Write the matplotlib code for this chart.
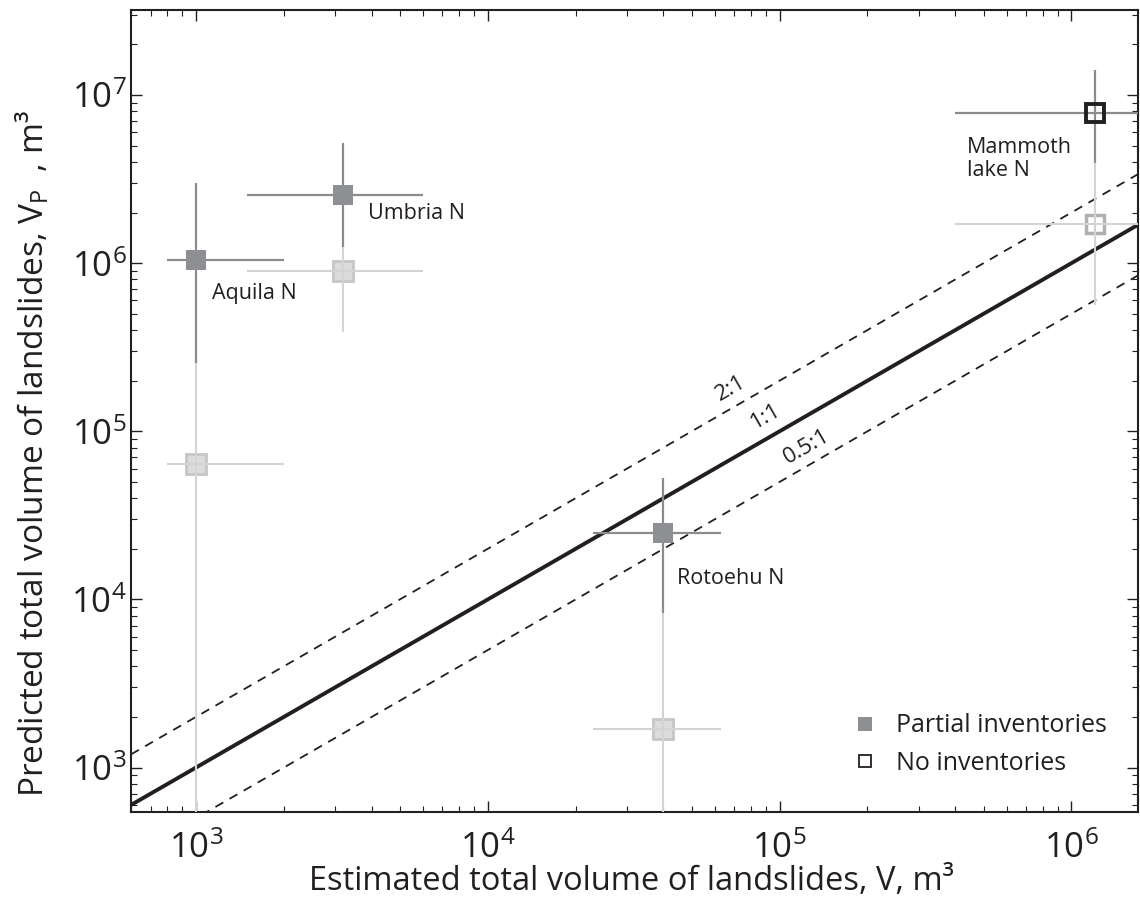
## predicted vs estimated landslide volume
import numpy as np
import matplotlib
matplotlib.use("Agg")
import matplotlib.pyplot as plt
from matplotlib.ticker import LogLocator, FuncFormatter, NullFormatter
from matplotlib.lines import Line2D

plt.rcParams['font.family'] = ['Open Sans', 'DejaVu Sans']
plt.rcParams['mathtext.fontset'] = 'custom'
plt.rcParams['mathtext.rm'] = 'Open Sans'
plt.rcParams['mathtext.it'] = 'Open Sans:italic'
plt.rcParams['mathtext.bf'] = 'Open Sans:bold'

ink = '#231f20'

# events
names = ['Aquila N', 'Umbria N', 'Rotoehu N', 'Mammoth\nlake N']
inventory = ['partial', 'partial', 'partial', 'none']
# estimated volume V and its range
est_v = [1000, 3200, 4.0e4, 1.2e6]
est_lo = [800, 1500, 2.3e4, 4.0e5]
est_hi = [2000, 6000, 6.3e4, 3.0e6]
# predicted volume Vp (main model) and range
pred_v = [1.05e6, 2.55e6, 2.5e4, 7.8e6]
pred_lo = [2.55e5, 1.25e6, 8.3e3, 3.95e6]
pred_hi = [3.0e6, 5.15e6, 5.3e4, 1.41e7]
# predicted volume, second estimate (light)
alt_v = [6.4e4, 9.0e5, 1.7e3, 1.7e6]
alt_lo = [100, 3.9e5, 300, 5.6e5]
alt_hi = [2.55e5, 1.25e6, 8.3e3, 3.95e6]

# reference ratio lines
ratios = [2.0, 1.0, 0.5]
ratio_labels = ['2:1', '1:1', '0.5:1']
ratio_label_x = [6.78e4, 9.0e4, 1.24e5]
ratio_label_y = [1.81e5, 1.23e5, 8.05e4]

# label anchors (left edge of text)
name_x = [1.14e3, 3.9e3, 4.47e4, 4.38e5]
name_y = [6.6e5, 1.98e6, 1.33e4, 4.15e6]

xlim = (600, 1.69e6)
ylim = (545, 3.2e7)

fig = plt.figure(figsize=(11.4, 8.99), dpi=100)
ax = fig.add_axes([131/1140, 1-812/899, (1138-131)/1140, (812-10)/899])
ax.set_xscale('log')
ax.set_yscale('log')
ax.set_xlim(xlim)
ax.set_ylim(ylim)

# ratio lines
xx = np.logspace(np.log10(xlim[0]), np.log10(xlim[1]), 50)
for r in ratios:
    if r == 1.0:
        ax.plot(xx, r*xx, color=ink, lw=2.8, zorder=2)
    else:
        ax.plot(xx, r*xx, color=ink, lw=1.3, ls=(0, (5, 4)), zorder=2)
for lab, lx, ly in zip(ratio_labels, ratio_label_x, ratio_label_y):
    ax.text(lx, ly, lab, rotation=29.8, rotation_mode='anchor', ha='center', va='center',
            fontsize=16, color=ink)

est_v = np.array(est_v)
xerr = [est_v - np.array(est_lo), np.array(est_hi) - est_v]

# light estimate: markers, then error lines over them
alt_v = np.array(alt_v)
for i in range(len(names)):
    if inventory[i] == 'partial':
        ax.plot(est_v[i], alt_v[i], 's', ms=14, mfc='#dcdcdc', mec='#c6c6c6', mew=2, zorder=3)
    else:
        ax.plot(est_v[i], alt_v[i], 's', ms=13, mfc='white', mec='#b0b0b0', mew=2.5, zorder=3)
ax.errorbar(est_v, alt_v, xerr=xerr, yerr=[alt_v - np.array(alt_lo), np.array(alt_hi) - alt_v],
            fmt='none', ecolor='#d4d4d4', elinewidth=1.5, capsize=0, zorder=4)

# main estimate
pred_v = np.array(pred_v)
ax.errorbar(est_v, pred_v, xerr=xerr, yerr=[pred_v - np.array(pred_lo), np.array(pred_hi) - pred_v],
            fmt='none', ecolor='#8c8c8c', elinewidth=1.6, capsize=0, zorder=5)
for i in range(len(names)):
    if inventory[i] == 'partial':
        ax.plot(est_v[i], pred_v[i], 's', ms=14.5, mfc='#8e8f93', mec='#8e8f93', mew=0, zorder=6)
    else:
        ax.plot(est_v[i], pred_v[i], 's', ms=13, mfc='none', mec=ink, mew=2.8, zorder=6)

for nm, nx, ny in zip(names, name_x, name_y):
    ax.text(nx, ny, nm, ha='left', va='center', fontsize=15.5, color=ink, linespacing=1.15)

# legend
handles = [Line2D([], [], ls='none', marker='s', ms=10, mfc='#8e8f93', mec='#8e8f93', mew=0),
           Line2D([], [], ls='none', marker='s', ms=9, mfc='white', mec=ink, mew=1.3)]
ax.legend(handles, ['Partial inventories', 'No inventories'], loc='upper left',
          bbox_to_anchor=((830-131)/1007, (812-691)/802), frameon=False, fontsize=18,
          handletextpad=0.75, labelspacing=0.5, handlelength=1.0, labelcolor=ink)

# axes, ticks
for s in ax.spines.values():
    s.set_linewidth(1.5)
    s.set_color(ink)
ax.xaxis.set_major_locator(LogLocator(base=10, numticks=20))
ax.yaxis.set_major_locator(LogLocator(base=10, numticks=20))
ax.xaxis.set_minor_locator(LogLocator(base=10, subs=np.arange(2, 10), numticks=20))
ax.yaxis.set_minor_locator(LogLocator(base=10, subs=np.arange(2, 10), numticks=20))
fmt = FuncFormatter(lambda v, p: r'$\mathrm{10^{%d}}$' % round(np.log10(v)))
ax.xaxis.set_major_formatter(fmt)
ax.yaxis.set_major_formatter(fmt)
ax.xaxis.set_minor_formatter(NullFormatter())
ax.yaxis.set_minor_formatter(NullFormatter())
ax.tick_params(which='both', direction='in', top=True, right=True, colors=ink, labelcolor=ink)
ax.tick_params(which='major', length=8, width=1.0, labelsize=25)
ax.tick_params(which='minor', length=4, width=0.8)
ax.tick_params(axis='x', which='major', pad=14)
ax.tick_params(axis='y', which='major', pad=3)

fig.text(631/1140, 1-882/899, 'Estimated total volume of landslides, V, m³', ha='center', va='center',
         fontsize=23.5, color=ink)
fig.text(33/1140, 1-454/899, r'Predicted total volume of landslides, $\mathrm{V_P}$  , m³', rotation=90,
         ha='center', va='center', fontsize=24, color=ink)

fig.savefig('out.png', dpi=100)
